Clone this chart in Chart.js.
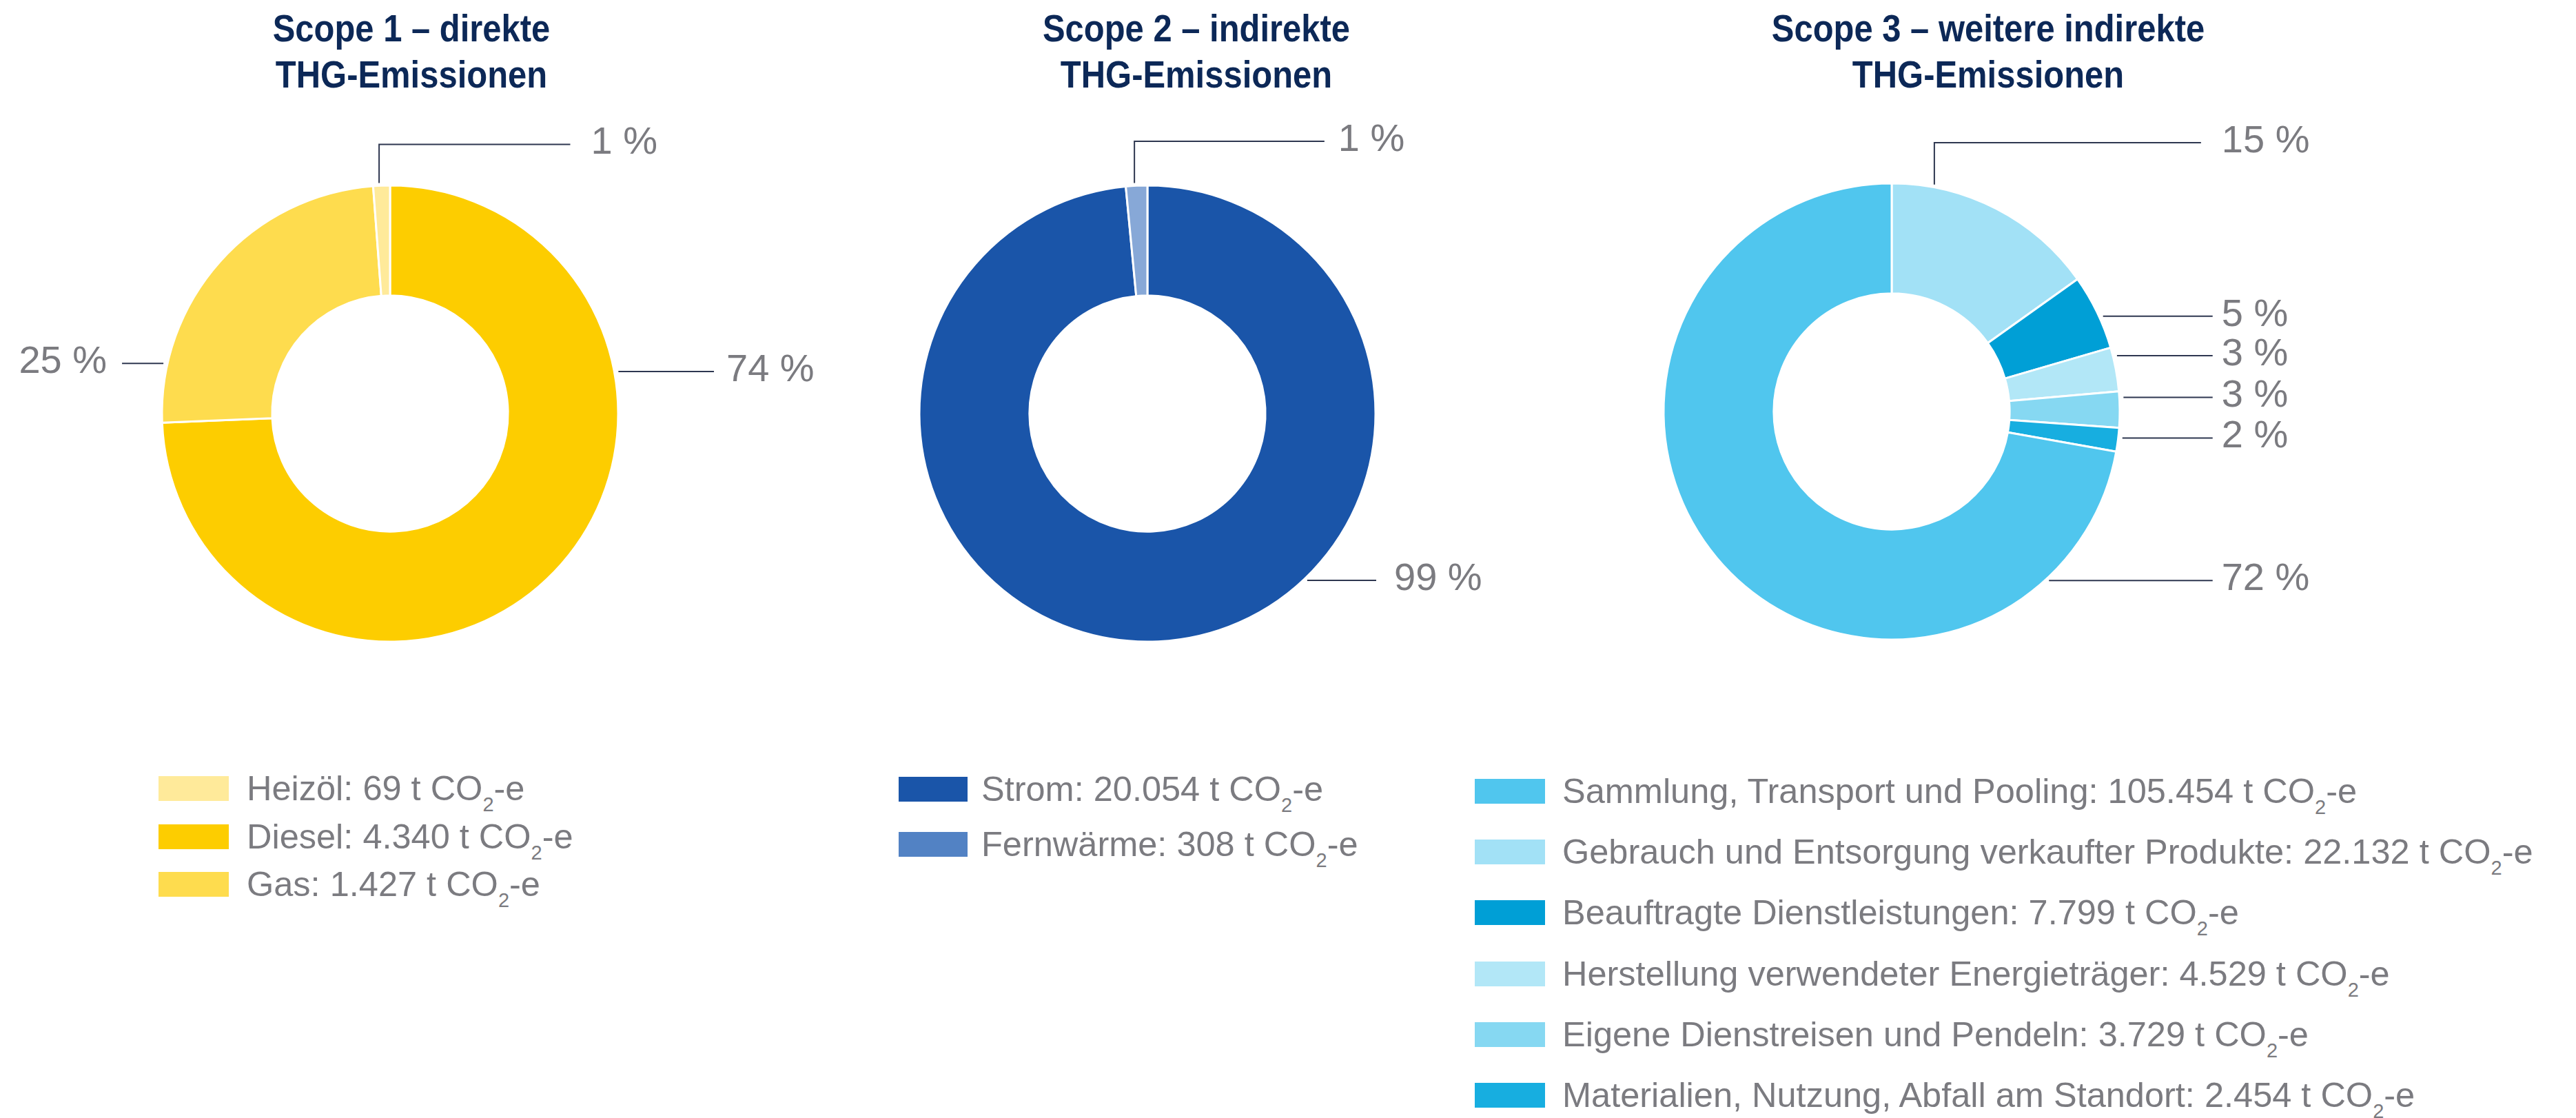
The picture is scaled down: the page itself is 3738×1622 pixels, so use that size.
<!DOCTYPE html>
<html lang="de">
<head>
<meta charset="utf-8">
<title>THG-Emissionen nach Scope</title>
<script src="https://cdn.jsdelivr.net/npm/chart.js@4.4.0/dist/chart.umd.min.js"></script>
<style>
  html, body { margin: 0; padding: 0; background: #fff; }
  body { position: relative; width: 3738px; height: 1622px; overflow: hidden; }
  .box { position: absolute; }
  .title {
    position: absolute; width: 900px; text-align: center;
    font-family: "Liberation Sans", Arial, sans-serif;
    font-weight: bold; font-size: 55px; line-height: 67px;
    color: #0c2857;
    transform: scaleX(0.89); transform-origin: 50% 0;
  }
  .legend { position: absolute; }
  .row { position: absolute; left: 0; height: 36px; white-space: nowrap; }
  .swatch { position: absolute; left: 0; top: 0; height: 36px; }
  .text {
    position: absolute; top: 0;
    font-family: "Liberation Sans", Arial, sans-serif; font-size: 50.5px; line-height: 36px;
    color: #7b7b80;
  }
  .text sub { font-size: 29px; vertical-align: -16px; line-height: 0; }
</style>
</head>
<body>

<div class="title" id="t1" style="left:147px; top:8px">Scope 1 – direkte<br>THG-Emissionen</div>
<div class="title" id="t2" style="left:1286px; top:8px">Scope 2 – indirekte<br>THG-Emissionen</div>
<div class="title" id="t3" style="left:2435px; top:8px">Scope 3 – weitere indirekte<br>THG-Emissionen</div>

<div class="box" style="left:-84px; top:150px"><canvas id="scope1" width="1300" height="900"></canvas></div>
<div class="box" style="left:1015px; top:150px"><canvas id="scope2" width="1300" height="900"></canvas></div>
<div class="box" style="left:2095px; top:147px"><canvas id="scope3" width="1300" height="900"></canvas></div>

<div class="legend" id="legend1" style="left:230px; top:1126px"></div>
<div class="legend" id="legend2" style="left:1304px; top:1127px"></div>
<div class="legend" id="legend3" style="left:2140px; top:1130px"></div>

<script>
// Scope 1 – direct emissions (t CO2-e), in drawing order clockwise from 12 o'clock
const scope1Labels = ["Diesel", "Gas", "Heizöl"];
const scope1Values = [4340, 1427, 69];
const scope1Percent = [74, 25, 1];
const scope1Colors = ["#fdcd00", "#fedc4e", "#ffea9a"];
const scope1LegendOrder = [2, 0, 1];

// Scope 2 – indirect emissions
const scope2Labels = ["Strom", "Fernwärme"];
const scope2Values = [20054, 308];
const scope2Percent = [99, 1];
const scope2Colors = ["#1a55a9", "#87a8d7"];
const scope2LegendColors = ["#1a55a9", "#5282c4"];
const scope2LegendOrder = [0, 1];

// Scope 3 – further indirect emissions
const scope3Labels = [
  "Gebrauch und Entsorgung verkaufter Produkte",
  "Beauftragte Dienstleistungen",
  "Herstellung verwendeter Energieträger",
  "Eigene Dienstreisen und Pendeln",
  "Materialien, Nutzung, Abfall am Standort",
  "Sammlung, Transport und Pooling",
];
const scope3Values = [22132, 7799, 4529, 3729, 2454, 105454];
const scope3Percent = [15, 5, 3, 3, 2, 72];
const scope3Colors = ["#a2e1f6", "#009fd6", "#b2e7f7", "#86d8f2", "#17aee0", "#50c6ee"];
const scope3LegendOrder = [5, 0, 1, 2, 3, 4];

// German thousands separator
const fmt = (v) => String(v).replace(/\B(?=(\d{3})+(?!\d))/g, ".");

// percent labels with leader lines; dy/dx/end are fractions of the outer radius
const leaderLines = {
  id: "leaderLines",
  afterDatasetsDraw(chart, args, opts) {
    const ctx = chart.ctx;
    const arc = chart.getDatasetMeta(0).data[0];
    const cx = arc.x;
    const cy = arc.y;
    const R = arc.outerRadius;
    ctx.save();
    ctx.strokeStyle = "#2e3750";
    ctx.lineWidth = 2;
    ctx.fillStyle = "#7b7b80";
    ctx.font = '56px "Liberation Sans", Arial, sans-serif';
    ctx.textBaseline = "alphabetic";
    opts.items.forEach((item) => {
      const y = cy + item.dy * R;
      const xEnd = cx + item.end * R;
      ctx.beginPath();
      if (item.elbow) {
        const x = cx + item.dx * R;
        const yArc = cy - Math.sqrt(R * R - (x - cx) * (x - cx)) - 4;
        ctx.moveTo(x, yArc);
        ctx.lineTo(x, y);
        ctx.lineTo(xEnd, y);
      } else {
        const side = item.end > 0 ? 1 : -1;
        const half = Math.sqrt(Math.max(R * R - (y - cy) * (y - cy), 0));
        ctx.moveTo(cx + side * (half + 6), y);
        ctx.lineTo(xEnd, y);
      }
      ctx.stroke();
      const text = opts.percents[item.index] + " %";
      if (item.end > 0) {
        ctx.textAlign = "left";
        ctx.fillText(text, xEnd + item.gap, y + 14);
      } else {
        ctx.textAlign = "right";
        ctx.fillText(text, xEnd - item.gap, y + 14);
      }
    });
    ctx.restore();
  },
};

function makeDonut(id, labels, values, colors, percents, items) {
  return new Chart(document.getElementById(id), {
    type: "doughnut",
    data: {
      labels: labels,
      datasets: [
        {
          data: values,
          backgroundColor: colors,
          borderColor: "#ffffff",
          borderWidth: 3,
        },
      ],
    },
    options: {
      responsive: false,
      animation: false,
      radius: 331,
      cutout: "51.7%",
      layout: { padding: 0 },
      plugins: {
        legend: { display: false },
        tooltip: { enabled: false },
        leaderLines: { percents: percents, items: items },
      },
    },
    plugins: [leaderLines],
  });
}

makeDonut("scope1", scope1Labels, scope1Values, scope1Colors, scope1Percent, [
  { index: 2, elbow: true, dx: -0.048, dy: -1.18, end: 0.79, gap: 30 },
  { index: 0, dy: -0.184, end: 1.42, gap: 18 },
  { index: 1, dy: -0.22, end: -1.175, gap: 22 },
]);

makeDonut("scope2", scope2Labels, scope2Values, scope2Colors, scope2Percent, [
  { index: 1, elbow: true, dx: -0.057, dy: -1.193, end: 0.776, gap: 20 },
  { index: 0, dy: 0.731, end: 1.003, gap: 26 },
]);

makeDonut("scope3", scope3Labels, scope3Values, scope3Colors, scope3Percent, [
  { index: 0, elbow: true, dx: 0.187, dy: -1.178, end: 1.356, gap: 30 },
  { index: 1, dy: -0.418, end: 1.407, gap: 13 },
  { index: 2, dy: -0.245, end: 1.407, gap: 13 },
  { index: 3, dy: -0.062, end: 1.407, gap: 13 },
  { index: 4, dy: 0.116, end: 1.407, gap: 13 },
  { index: 5, dy: 0.741, end: 1.407, gap: 13 },
]);

// HTML legends below each donut
function buildLegend(id, labels, values, colors, order, swatchW, gap, pitch) {
  const el = document.getElementById(id);
  order.forEach((i, row) => {
    const r = document.createElement("div");
    r.className = "row";
    r.style.top = row * pitch + "px";
    const sw = document.createElement("div");
    sw.className = "swatch";
    sw.style.width = swatchW + "px";
    sw.style.background = colors[i];
    const tx = document.createElement("span");
    tx.className = "text";
    tx.style.left = swatchW + gap + "px";
    tx.innerHTML = labels[i] + ": " + fmt(values[i]) + " t CO<sub>2</sub>-e";
    r.appendChild(sw);
    r.appendChild(tx);
    el.appendChild(r);
  });
}

buildLegend("legend1", scope1Labels, scope1Values, scope1Colors, scope1LegendOrder, 102, 26, 69.5);
buildLegend("legend2", scope2Labels, scope2Values, scope2LegendColors, scope2LegendOrder, 100, 20, 80);
buildLegend("legend3", scope3Labels, scope3Values, scope3Colors, scope3LegendOrder, 102, 25, 88.2);
</script>
</body>
</html>
